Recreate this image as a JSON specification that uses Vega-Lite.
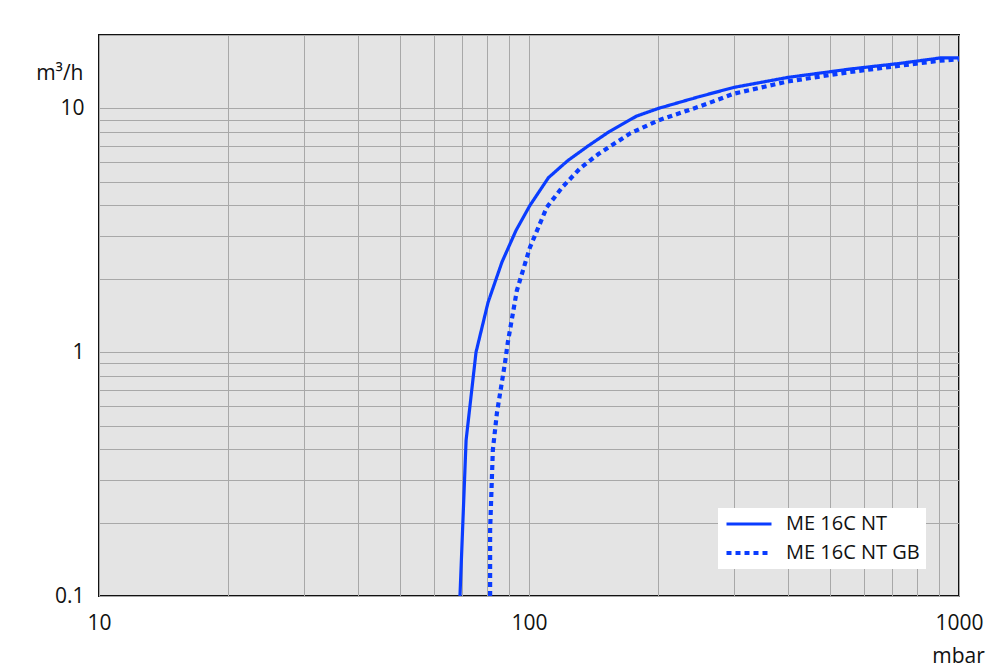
{
  "$schema": "https://vega.github.io/schema/vega-lite/v6.json",
  "width": 860,
  "height": 561,
  "autosize": {"type": "none"},
  "padding": {"left": 99, "top": 35, "right": 41, "bottom": 72},
  "background": "white",
  "config": {
    "view": {"fill": "#e4e4e4", "stroke": "#111111", "strokeWidth": 2},
    "font": "Open Sans",
    "axis": {"labelFont": "Open Sans", "titleFont": "Open Sans", "labelColor": "#111", "titleColor": "#111"}
  },
  "data": {
    "values": [
      {"p": 69.1, "q": 0.1, "series": "ME 16C NT"},
      {"p": 71.4, "q": 0.435, "series": "ME 16C NT"},
      {"p": 75.3, "q": 1.0, "series": "ME 16C NT"},
      {"p": 80.3, "q": 1.6, "series": "ME 16C NT"},
      {"p": 86.5, "q": 2.34, "series": "ME 16C NT"},
      {"p": 93.3, "q": 3.16, "series": "ME 16C NT"},
      {"p": 100.5, "q": 4.0, "series": "ME 16C NT"},
      {"p": 111, "q": 5.2, "series": "ME 16C NT"},
      {"p": 123, "q": 6.1, "series": "ME 16C NT"},
      {"p": 137, "q": 7.0, "series": "ME 16C NT"},
      {"p": 154, "q": 8.05, "series": "ME 16C NT"},
      {"p": 178, "q": 9.3, "series": "ME 16C NT"},
      {"p": 200, "q": 10.0, "series": "ME 16C NT"},
      {"p": 250, "q": 11.2, "series": "ME 16C NT"},
      {"p": 300, "q": 12.2, "series": "ME 16C NT"},
      {"p": 400, "q": 13.4, "series": "ME 16C NT"},
      {"p": 558, "q": 14.5, "series": "ME 16C NT"},
      {"p": 729, "q": 15.3, "series": "ME 16C NT"},
      {"p": 904, "q": 16.1, "series": "ME 16C NT"},
      {"p": 1000, "q": 16.1, "series": "ME 16C NT"},
      {"p": 81.2, "q": 0.1, "series": "ME 16C NT GB"},
      {"p": 81.2, "q": 0.186, "series": "ME 16C NT GB"},
      {"p": 82.4, "q": 0.397, "series": "ME 16C NT GB"},
      {"p": 84.2, "q": 0.562, "series": "ME 16C NT GB"},
      {"p": 87.9, "q": 0.9, "series": "ME 16C NT GB"},
      {"p": 89.3, "q": 1.1, "series": "ME 16C NT GB"},
      {"p": 93.7, "q": 1.79, "series": "ME 16C NT GB"},
      {"p": 100.5, "q": 2.69, "series": "ME 16C NT GB"},
      {"p": 110, "q": 3.93, "series": "ME 16C NT GB"},
      {"p": 119.4, "q": 4.74, "series": "ME 16C NT GB"},
      {"p": 131.5, "q": 5.68, "series": "ME 16C NT GB"},
      {"p": 145, "q": 6.5, "series": "ME 16C NT GB"},
      {"p": 172, "q": 7.9, "series": "ME 16C NT GB"},
      {"p": 200, "q": 8.93, "series": "ME 16C NT GB"},
      {"p": 250, "q": 10.2, "series": "ME 16C NT GB"},
      {"p": 300, "q": 11.5, "series": "ME 16C NT GB"},
      {"p": 400, "q": 12.9, "series": "ME 16C NT GB"},
      {"p": 558, "q": 14.1, "series": "ME 16C NT GB"},
      {"p": 904, "q": 15.7, "series": "ME 16C NT GB"},
      {"p": 1000, "q": 15.9, "series": "ME 16C NT GB"}
    ]
  },
  "mark": {"type": "line", "clip": true},
  "encoding": {
    "x": {
      "field": "p", "type": "quantitative",
      "scale": {"type": "log", "domain": [10, 1000], "nice": false},
      "axis": {
        "values": [10, 20, 30, 40, 50, 60, 70, 80, 90, 100, 200, 300, 400, 500, 600, 700, 800, 900, 1000],
        "labelExpr": "datum.value == 10 || datum.value == 100 || datum.value == 1000 ? datum.value : ''",
        "grid": true, "gridColor": "#a8a8a8", "gridWidth": 1, "gridOpacity": 1,
        "domain": false, "ticks": false,
        "labelFontSize": 21, "labelPadding": 16, "labelFlush": false, "labelOverlap": false,
        "title": "mbar", "titleFontSize": 21, "titleFontWeight": "normal",
        "titleAnchor": null, "titleX": 859, "titleY": 66, "titleAlign": "center", "titleBaseline": "alphabetic"
      }
    },
    "y": {
      "field": "q", "type": "quantitative",
      "scale": {"type": "log", "domain": [0.1, 20], "nice": false},
      "axis": {
        "values": [0.1, 0.2, 0.3, 0.4, 0.5, 0.6, 0.7, 0.8, 0.9, 1, 2, 3, 4, 5, 6, 7, 8, 9, 10, 20],
        "labelExpr": "datum.value == 0.1 || datum.value == 1 || datum.value == 10 ? datum.value : ''",
        "grid": true, "gridColor": "#a8a8a8", "gridWidth": 1, "gridOpacity": 1,
        "domain": false, "ticks": false,
        "labelFontSize": 21, "labelPadding": 15, "labelFlush": false, "labelOverlap": false,
        "title": "m³/h", "titleFontSize": 21, "titleFontWeight": "normal", "titleAngle": 0,
        "titleAnchor": null, "titleX": -16, "titleY": 38, "titleAlign": "right", "titleBaseline": "middle"
      }
    },
    "color": {
      "field": "series", "type": "nominal",
      "scale": {"domain": ["ME 16C NT", "ME 16C NT GB"], "range": ["#0a3cff", "#0a3cff"]},
      "legend": {
        "title": null, "orient": "none", "legendX": 619, "legendY": 473,
        "fillColor": "white", "padding": 6, "symbolType": "M-1,0H5", "symbolSize": 225,
        "symbolStrokeWidth": 3.5, "labelFontSize": 20, "labelFont": "Open Sans", "labelColor": "#111",
        "rowPadding": 9, "labelOffset": 42
      }
    },
    "strokeDash": {
      "field": "series", "type": "nominal",
      "scale": {"domain": ["ME 16C NT", "ME 16C NT GB"], "range": [[1, 0], [5, 4]]},
      "legend": null
    },
    "strokeWidth": {
      "field": "series", "type": "nominal",
      "scale": {"domain": ["ME 16C NT", "ME 16C NT GB"], "range": [3.2, 4.2]},
      "legend": null
    }
  }
}
